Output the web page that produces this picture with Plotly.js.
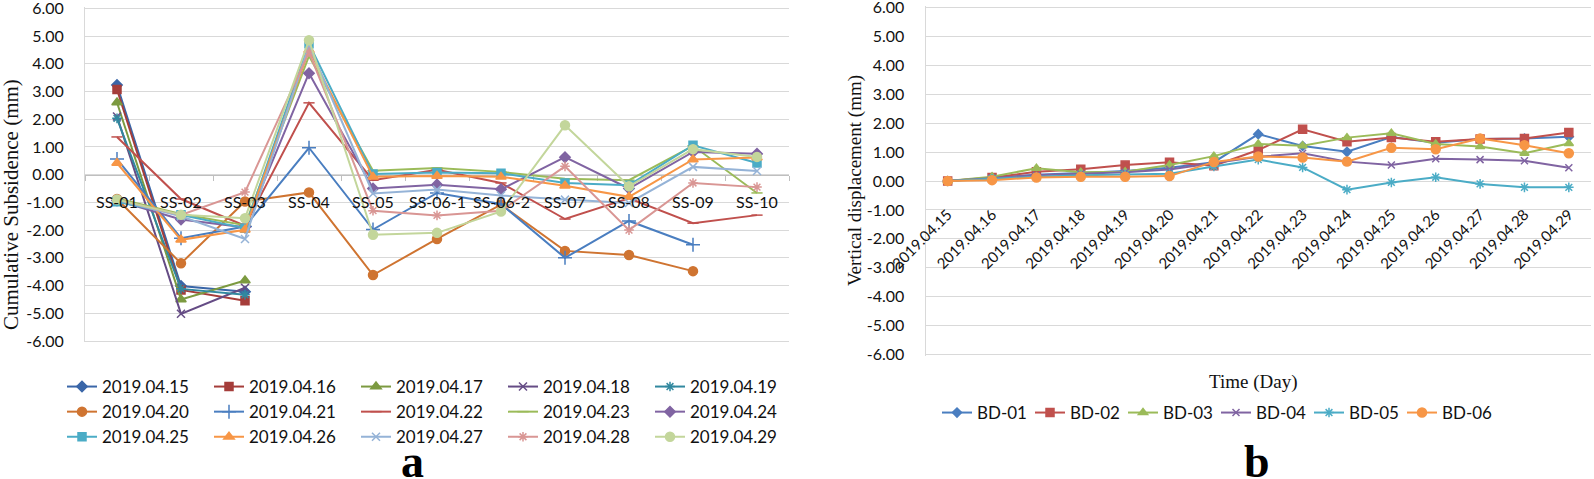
<!DOCTYPE html>
<html><head><meta charset="utf-8">
<script src="https://cdn.plot.ly/plotly-3.0.1.min.js"></script>
<style>html,body{margin:0;padding:0;background:#fff}#chart{width:1594px;height:479px}</style>
</head><body><div id="chart"></div>
<script>
// ---------- data: chart a (cumulative subsidence) ----------
const stations = ['SS-01','SS-02','SS-03','SS-04','SS-05','SS-06-1','SS-06-2','SS-07','SS-08','SS-09','SS-10'];
const subsidenceDates = ['2019.04.15','2019.04.16','2019.04.17','2019.04.18','2019.04.19','2019.04.20','2019.04.21','2019.04.22','2019.04.23','2019.04.24','2019.04.25','2019.04.26','2019.04.27','2019.04.28','2019.04.29'];
const s0415 = [3.23, -4.02, -4.22, null, null, null, null, null, null, null, null];
const s0416 = [3.07, -4.16, -4.55, null, null, null, null, null, null, null, null];
const s0417 = [2.60, -4.50, -3.82, null, null, null, null, null, null, null, null];
const s0418 = [2.10, -5.02, -4.08, null, null, null, null, null, null, null, null];
const s0419 = [2.03, -4.12, -4.33, null, null, null, null, null, null, null, null];
const s0420 = [-0.88, -3.20, -0.97, -0.64, -3.62, -2.32, -1.08, -2.75, -2.90, -3.48, null];
const s0421 = [0.56, -2.29, -1.87, 0.97, -1.98, -0.66, -1.06, -3.00, -1.67, -2.53, null];
const s0422 = [1.36, -0.88, -1.84, 2.59, -0.20, 0.18, -0.30, -1.60, -0.85, -1.75, -1.46];
const s0423 = [-0.86, -1.42, -1.82, 4.28, 0.14, 0.24, 0.10, -0.15, -0.20, 1.04, -0.66];
const s0424 = [-0.93, -1.62, -1.90, 3.66, -0.50, -0.36, -0.53, 0.63, -0.50, 0.82, 0.75];
const s0425 = [-0.98, -1.45, -1.93, 4.72, 0.02, 0.08, 0.05, -0.30, -0.38, 1.06, 0.42];
const s0426 = [0.42, -2.35, -1.99, 4.50, -0.08, -0.05, -0.08, -0.40, -0.80, 0.55, 0.62];
const s0427 = [-0.92, -1.50, -2.32, 4.65, -0.68, -0.54, -0.75, -0.90, -1.02, 0.28, 0.13];
const s0428 = [-0.90, -1.45, -0.63, 4.42, -1.30, -1.47, -1.30, 0.30, -2.00, -0.30, -0.45];
const s0429 = [-0.90, -1.45, -1.57, 4.85, -2.17, -2.10, -1.33, 1.78, -0.42, 0.92, 0.64];
const subsidenceSeries = [s0415, s0416, s0417, s0418, s0419, s0420, s0421, s0422, s0423, s0424, s0425, s0426, s0427, s0428, s0429];

// ---------- data: chart b (vertical displacement) ----------
const days = ['2019.04.15','2019.04.16','2019.04.17','2019.04.18','2019.04.19','2019.04.20','2019.04.21','2019.04.22','2019.04.23','2019.04.24','2019.04.25','2019.04.26','2019.04.27','2019.04.28','2019.04.29'];
const pointNames = ['BD-01','BD-02','BD-03','BD-04','BD-05','BD-06'];
const bd01 = [0.00, 0.10, 0.22, 0.28, 0.35, 0.46, 0.65, 1.62, 1.21, 1.01, 1.52, 1.32, 1.45, 1.47, 1.53];
const bd02 = [0.00, 0.12, 0.32, 0.41, 0.55, 0.65, 0.53, 1.07, 1.79, 1.36, 1.50, 1.36, 1.45, 1.47, 1.68];
const bd03 = [0.00, 0.15, 0.44, 0.30, 0.32, 0.55, 0.86, 1.28, 1.22, 1.50, 1.65, 1.28, 1.19, 0.96, 1.30];
const bd04 = [0.00, 0.10, 0.20, 0.25, 0.30, 0.40, 0.62, 0.84, 0.96, 0.67, 0.55, 0.77, 0.74, 0.70, 0.46];
const bd05 = [0.00, 0.08, 0.15, 0.20, 0.22, 0.25, 0.50, 0.74, 0.47, -0.30, -0.05, 0.13, -0.10, -0.22, -0.22];
const bd06 = [0.00, 0.03, 0.12, 0.15, 0.15, 0.17, 0.66, 0.85, 0.81, 0.67, 1.15, 1.10, 1.47, 1.24, 0.96];
const bdSeries = [bd01, bd02, bd03, bd04, bd05, bd06];

// ---------- axis ticks ----------
const yTickVals = [-6, -5, -4, -3, -2, -1, 0, 1, 2, 3, 4, 5, 6];
const yTickText = ['-6.00','-5.00','-4.00','-3.00','-2.00','-1.00','0.00','1.00','2.00','3.00','4.00','5.00','6.00'];

// ---------- styles ----------
const aColors = ['#3A66A8','#A53D3A','#7C9A40','#654C85','#31889F','#CF7431',
                 '#4A7EC0','#C0504D','#9BBB59','#8064A2','#4BACC6','#F79646',
                 '#95B3D7','#D99694','#C3D69B'];
const aSymbols = ['diamond','square','triangle-up','x-thin','asterisk','circle',
                  'cross-thin','line-ew','line-ew','diamond','square','triangle-up',
                  'x-thin','asterisk','circle'];
const aSizes = [8,8,9,8,8,9,10,8,8,8,8,9,8,8,9];
const bColors = ['#4A7EC0','#C0504D','#9BBB59','#8064A2','#4BACC6','#F79646'];
const bSymbols = ['diamond','square','triangle-up','x-thin','asterisk','circle'];
const bSizes = [7,8,8,7,8,9];

const W = 1594, H = 479, ML = 80;
const GW = W - ML;
const px2x = p => (p - ML) / GW;
const py2y = p => 1 - p / H;

const tickFont = {family: 'Lato, "Open Sans", sans-serif', size: 16, color: '#111'};
const serif = 'Liberation Serif, "Times New Roman", serif';

const traces = [];
subsidenceSeries.forEach((vals, i) => {
  traces.push({
    type: 'scatter', mode: 'lines+markers', name: subsidenceDates[i],
    x: stations, y: vals, xaxis: 'x', yaxis: 'y', legend: 'legend',
    connectgaps: false, cliponaxis: false,
    line: {color: aColors[i], width: 2},
    marker: {symbol: aSymbols[i], size: aSizes[i], color: aColors[i],
             line: {color: aColors[i], width: 1.5}}
  });
});
bdSeries.forEach((vals, i) => {
  traces.push({
    type: 'scatter', mode: 'lines+markers', name: pointNames[i],
    x: days, y: vals, xaxis: 'x2', yaxis: 'y2', legend: 'legend2',
    cliponaxis: false,
    line: {color: bColors[i], width: 2},
    marker: {symbol: bSymbols[i], size: bSizes[i], color: bColors[i],
             line: {color: bColors[i], width: 1.5}}
  });
});

// plot areas (pixel geometry), range padded slightly so the 6.00 grid line is kept
const pad = 0.05;
const kA = (341 - 8.3) / 12, kB = (354.5 - 7.5) / 12;
const yA = [py2y(341 + pad * kA), py2y(8.3 - pad * kA)];
const yB = [py2y(354.5 + pad * kB), py2y(7.5 - pad * kB)];
const yRange = [-6 - pad, 6 + pad];

function ann(text, px, py, size, extra) {
  return Object.assign({text: text, xref: 'paper', yref: 'paper', x: px2x(px), y: py2y(py),
    xanchor: 'center', yanchor: 'middle', showarrow: false,
    font: {family: serif, size: size, color: '#111'}}, extra || {});
}

const annotations = [
  ann('Cumulative Subsidence (mm)', 11, 205, 21, {textangle: -90}),
  ann('Vertical displacement (mm)', 855, 181, 19, {textangle: -90}),
  ann('Time (Day)', 1253, 382, 19),
  ann('<b>a</b>', 412, 461, 46, {font: {family: serif, size: 46, color: '#000'}}),
  ann('<b>b</b>', 1257, 461, 46, {font: {family: serif, size: 46, color: '#000'}})
];
// category labels of chart a sit just under the 0 line
stations.forEach(s => {
  annotations.push({text: s, xref: 'x', yref: 'y', x: s, y: 0, xanchor: 'center', yanchor: 'top',
    yshift: -15, showarrow: false, font: tickFont});
});

const layout = {
  width: W, height: H,
  margin: {l: ML, r: 0, t: 0, b: 0, pad: 0, autoexpand: false},
  paper_bgcolor: '#fff', plot_bgcolor: '#fff',
  showlegend: true,
  xaxis: {
    domain: [px2x(85), px2x(789)], anchor: 'free', position: (yA[0] + yA[1]) / 2,
    type: 'category', range: [-0.5, 10.5], showticklabels: false,
    showline: true, linecolor: '#BFBFBF', linewidth: 1,
    ticks: 'outside', tickson: 'boundaries', ticklen: 5, tickcolor: '#BFBFBF',
    showgrid: false, zeroline: false, layer: 'below traces'
  },
  yaxis: {
    domain: yA, anchor: 'x', range: yRange,
    tickmode: 'array', tickvals: yTickVals, ticktext: yTickText, ticklabeloverflow: 'allow',
    showgrid: true, gridcolor: '#D9D9D9', gridwidth: 1,
    showline: true, linecolor: '#D9D9D9', zeroline: false,
    ticks: '', ticklabelstandoff: 17, tickfont: tickFont, layer: 'below traces'
  },
  xaxis2: {
    domain: [px2x(925.5), px2x(1591)], anchor: 'free', position: (yB[0] + yB[1]) / 2,
    type: 'category', range: [-0.5, 14.5], ticklabeloverflow: 'allow',
    showline: true, linecolor: '#D9D9D9', linewidth: 1,
    ticks: '', tickangle: -45, ticklabelstandoff: 18,
    showgrid: false, zeroline: false, layer: 'below traces',
    tickfont: {family: tickFont.family, size: 15, color: '#111'}
  },
  yaxis2: {
    domain: yB, anchor: 'x2', range: yRange,
    tickmode: 'array', tickvals: yTickVals, ticktext: yTickText, ticklabeloverflow: 'allow',
    showgrid: true, gridcolor: '#D9D9D9', gridwidth: 1,
    showline: true, linecolor: '#D9D9D9', zeroline: false,
    ticks: '', ticklabelstandoff: 17, tickfont: tickFont, layer: 'below traces'
  },
  legend: {
    orientation: 'h', x: px2x(62), xanchor: 'left', y: py2y(369), yanchor: 'top',
    entrywidth: 102, entrywidthmode: 'pixels', itemwidth: 30,
    font: {family: tickFont.family, size: 17, color: '#111'},
    bgcolor: 'rgba(0,0,0,0)', borderwidth: 0, traceorder: 'normal'
  },
  legend2: {
    orientation: 'h', x: px2x(937), xanchor: 'left', y: py2y(395), yanchor: 'top',
    entrywidth: 48, entrywidthmode: 'pixels', itemwidth: 30,
    font: {family: tickFont.family, size: 17, color: '#111'},
    bgcolor: 'rgba(0,0,0,0)', borderwidth: 0, traceorder: 'normal'
  },
  annotations: annotations
};

Plotly.newPlot('chart', traces, layout, {staticPlot: true, displayModeBar: false});
</script>
</body></html>
